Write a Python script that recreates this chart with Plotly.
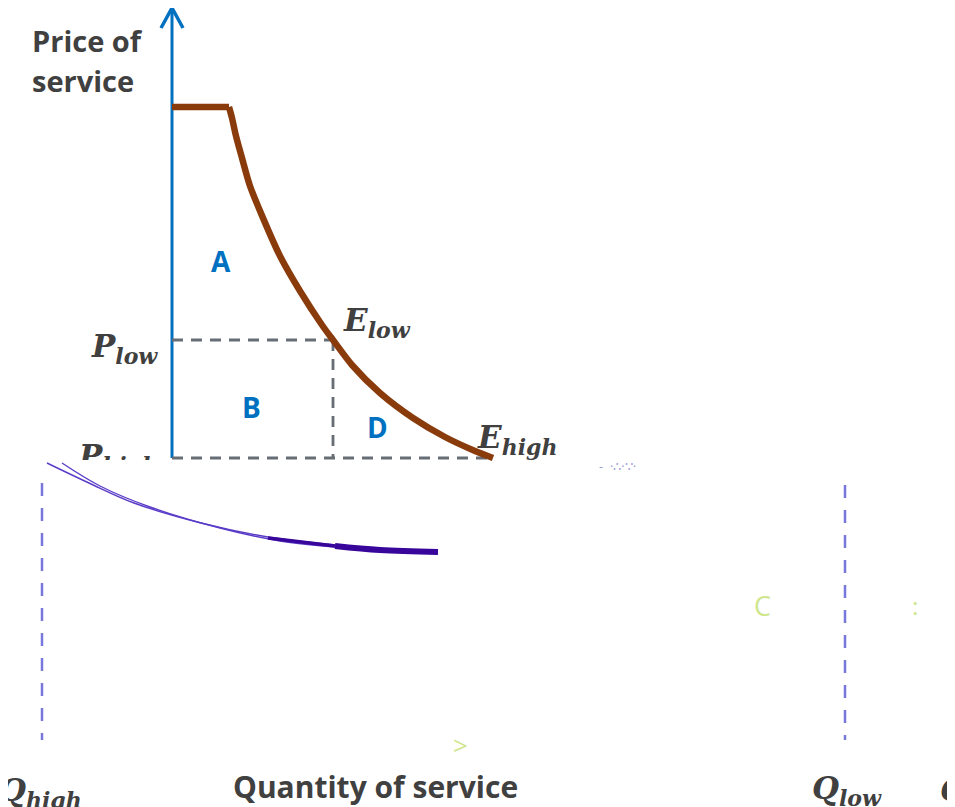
import plotly.graph_objects as go

# ---------------- data (quantity / price units, origin at the axes corner) ----------------
# demand (brown) curve: flat cap then downward-sloping
cap_q = [0, 57]
cap_p = [351, 351]
demand_q = [57, 60, 64, 70, 78, 91, 108, 128, 150, 161, 180, 208, 241, 273, 303, 321]
demand_p = [351, 340, 322, 300, 272, 240, 202, 167, 133, 118, 93, 65, 40, 21, 7, 0]

Q_LOW, Q_HIGH = 161, 321
P_LOW, P_HIGH = 118, 0
P_AXIS_TOP = 450

# glitched lower part of the picture
lower_q = [-125, -83, -38, 29, 96, 163, 208, 266]
lower_p = [-5, -25, -45, -65, -79, -87, -91, -94]
lower2_q = [-110, -72, -22, 48, 108, 163]
lower2_p = [-5, -28, -49, -70, -83, -89]
thick_q = [96, 163, 208, 266]
thick_p = [-80, -88, -92, -94]
drop_left_q = -130
drop_right_q = 673
drop_top, drop_bottom = -25, -282

area_labels = ["A", "B", "D"]
area_q = [49, 79, 205]
area_p = [197, 51, 31]

BLUE = "#0070C0"
BROWN = "#8a3b0c"
GRAY = "#676d75"
TXT = "#404040"
PURPLE = "#38069a"
VIOLET = "#7878dc"
FAINT = "#cfe68c"

fig = go.Figure()

# price axis with arrow
fig.add_trace(go.Scatter(x=[0, 0], y=[P_HIGH, P_AXIS_TOP], mode="lines",
                         line=dict(color=BLUE, width=3), hoverinfo="skip"))
fig.add_trace(go.Scatter(x=[-11, 0, 11], y=[P_AXIS_TOP - 20, P_AXIS_TOP, P_AXIS_TOP - 20],
                         mode="lines", line=dict(color=BLUE, width=3.5), hoverinfo="skip"))

# dashed guides
dash = "11px,8px"
fig.add_trace(go.Scatter(x=[0, Q_LOW], y=[P_LOW, P_LOW], mode="lines",
                         line=dict(color=GRAY, width=2.8, dash=dash), hoverinfo="skip"))
fig.add_trace(go.Scatter(x=[Q_LOW, Q_LOW], y=[P_LOW, P_HIGH], mode="lines",
                         line=dict(color=GRAY, width=2.8, dash=dash), hoverinfo="skip"))
fig.add_trace(go.Scatter(x=[0, Q_HIGH - 3], y=[P_HIGH, P_HIGH], mode="lines",
                         line=dict(color=GRAY, width=2.8, dash=dash), hoverinfo="skip"))

# demand curve
fig.add_trace(go.Scatter(x=cap_q, y=cap_p, mode="lines",
                         line=dict(color=BROWN, width=6.5), hoverinfo="skip"))
fig.add_trace(go.Scatter(x=demand_q, y=demand_p, mode="lines", line_shape="spline",
                         line=dict(color=BROWN, width=6.5, smoothing=0.8), hoverinfo="skip"))

serif_family = "DejaVu Serif"
sub = "<sub><span style='font-size:22px'>%s</span></sub>"

# P_high label (cut off at its bottom like the reference)
fig.add_trace(go.Scatter(x=[-14], y=[P_HIGH - 1], mode="text", text=["P" + sub % "high"],
                         textfont=dict(family=serif_family, size=31, color=TXT,
                                       weight="bold", style="italic"),
                         textposition="middle left", hoverinfo="skip"))
fig.add_trace(go.Scatter(x=[-125, -3, -3, -125, -125], y=[-2, -2, -30, -30, -2],
                         mode="lines", fill="toself", fillcolor="white",
                         line=dict(color="white", width=0), hoverinfo="skip"))

# glitched lower drawing
fig.add_trace(go.Scatter(x=[drop_left_q, drop_left_q], y=[drop_top, drop_bottom], mode="lines",
                         line=dict(color=VIOLET, width=2.5, dash="13px,12px"), hoverinfo="skip"))
fig.add_trace(go.Scatter(x=[drop_right_q, drop_right_q], y=[drop_top - 2, drop_bottom], mode="lines",
                         line=dict(color=VIOLET, width=2.5, dash="13px,12px"), hoverinfo="skip"))
fig.add_trace(go.Scatter(x=lower_q, y=lower_p, mode="lines", line_shape="spline",
                         line=dict(color="#5a3cc8", width=1.4), hoverinfo="skip"))
fig.add_trace(go.Scatter(x=lower2_q, y=lower2_p, mode="lines", line_shape="spline",
                         line=dict(color="#5a3cc8", width=1.4), hoverinfo="skip"))
fig.add_trace(go.Scatter(x=thick_q[:2], y=thick_p[:2], mode="lines", line_shape="spline",
                         line=dict(color=PURPLE, width=3.5), hoverinfo="skip"))
fig.add_trace(go.Scatter(x=thick_q[1:], y=thick_p[1:], mode="lines", line_shape="spline",
                         line=dict(color=PURPLE, width=6), hoverinfo="skip"))

ann = []
sans = "Open Sans"
ann.append(dict(x=-142, y=418, text="Price of", xanchor="left", yanchor="middle",
                font=dict(family=sans, size=29, color=TXT, weight="bold")))
ann.append(dict(x=-142, y=378, text="service", xanchor="left", yanchor="middle",
                font=dict(family=sans, size=29, color=TXT, weight="bold")))
for lab, q, p in zip(area_labels, area_q, area_p):
    ann.append(dict(x=q, y=p, text=lab, xanchor="center", yanchor="middle",
                    font=dict(family=sans, size=28, color=BLUE, weight="bold")))

serif = dict(family=serif_family, size=31, color=TXT, weight="bold", style="italic")
ann.append(dict(x=Q_LOW + 8, y=P_LOW + 18, text="E" + sub % "low", xanchor="left",
                yanchor="middle", font=serif))
ann.append(dict(x=Q_HIGH - 18, y=P_HIGH + 19, text="E" + sub % "high", xanchor="left",
                yanchor="middle", font=serif))
ann.append(dict(x=-12, y=P_LOW - 8, text="P" + sub % "low", xanchor="right",
                yanchor="middle", font=serif))
ann.append(dict(x=-88, y=-334, text="Q" + sub % "high", xanchor="right",
                yanchor="middle", font=serif))
ann.append(dict(x=638, y=-332, text="Q" + sub % "low", xanchor="left",
                yanchor="middle", font=serif))
ann.append(dict(x=766, y=-332, text="Q", xanchor="left",
                yanchor="middle", font=serif))
ann.append(dict(x=203, y=-328, text="Quantity of service", xanchor="center", yanchor="middle",
                font=dict(family=sans, size=30, color=TXT, weight="bold")))

# faint artifacts
ann.append(dict(x=590, y=-147, text="C", xanchor="center", yanchor="middle",
                font=dict(family=sans, size=27, color=FAINT)))
ann.append(dict(x=743, y=-147, text=":", xanchor="center", yanchor="middle",
                font=dict(family=sans, size=24, color=FAINT)))
ann.append(dict(x=288, y=-287, text=">", xanchor="center", yanchor="middle",
                font=dict(family=sans, size=26, color=FAINT)))
ann.append(dict(x=425, y=-8, text="-  ·∴·∵·", xanchor="left", yanchor="middle",
                font=dict(family=sans, size=13, color="#a0a0d8")))

for a in ann:
    a["showarrow"] = False
    a["xref"] = "x"
    a["yref"] = "y"

# the page body adds an 8px offset, so the ranges are shifted by 8 units
fig.update_layout(
    width=955, height=807,
    margin=dict(l=0, r=0, t=0, b=0),
    paper_bgcolor="white", plot_bgcolor="white",
    showlegend=False,
    annotations=ann,
    xaxis=dict(range=[-164, 791], visible=False, fixedrange=True),
    yaxis=dict(range=[-357, 450], visible=False, fixedrange=True),
)

fig.write_html("out.html")
